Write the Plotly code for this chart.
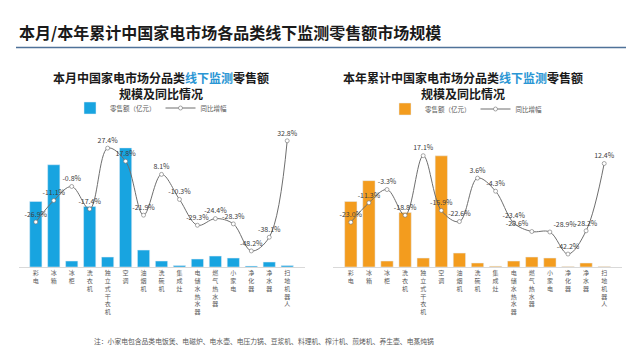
import plotly.graph_objects as go

categories = ["彩电", "冰箱", "冰柜", "洗衣机", "独立式干衣机", "空调", "油烟机", "洗碗机",
              "集成灶", "电储水热水器", "燃气热水器", "小家电", "净化器", "净水器", "扫地机器人"]
month_sales = [66, 103, 6, 61, 10, 120, 17, 6, 1.5, 8, 11, 9, 1, 5, 1.5]
month_yoy = [-26.9, -11.1, -0.8, -17.4, 27.4, 17.8, -21.9, 8.1, -10.3, -29.3, -24.4, -28.3, -48.2, -38.1, 32.8]
ytd_sales = [66, 87, 6, 55, 9, 112, 14, 4, 0.8, 6, 10, 9, 0.5, 4, 0.5]
ytd_yoy = [-23.0, -11.3, -3.3, -18.8, 17.1, -15.9, -22.6, 3.6, -4.3, -23.4, -28.6, -28.9, -42.2, -28.2, 12.4]

FONT = "Noto Sans CJK SC"
BLUE = "#18a4e0"
ORANGE = "#f39c1e"
LINEC = "#6e6e6e"
W, H = 640, 360

ticktext = ["<br>".join(list(c)) for c in categories]


def px(x):
    return x / W


def py(y):
    return 1 - y / H


ytd_textpos = ["top center"] * len(categories)
ytd_textpos[10] = "top left"
ytd_textpos[11] = "top right"

fig = go.Figure()

fig.add_trace(go.Bar(x=categories, y=month_sales, marker_color=BLUE, name="零售额（亿元）",
                     xaxis="x", yaxis="y", legend="legend", width=0.68))
fig.add_trace(go.Scatter(x=categories, y=month_yoy, name="同比增幅", xaxis="x", yaxis="y2",
                         mode="lines+markers+text", line=dict(color=LINEC, width=1, shape="spline", smoothing=1),
                         marker=dict(symbol="circle", size=4, color="white", line=dict(color=LINEC, width=0.6)),
                         text=[f"{v:.1f}%" for v in month_yoy], textposition="top center",
                         textfont=dict(size=7, color="#404040", family=FONT), cliponaxis=False,
                         legend="legend"))

fig.add_trace(go.Bar(x=categories, y=ytd_sales, marker_color=ORANGE, name="零售额（亿元）",
                     xaxis="x2", yaxis="y3", legend="legend2", width=0.68))
fig.add_trace(go.Scatter(x=categories, y=ytd_yoy, name="同比增幅", xaxis="x2", yaxis="y4",
                         mode="lines+markers+text", line=dict(color=LINEC, width=1, shape="spline", smoothing=1),
                         marker=dict(symbol="circle", size=4, color="white", line=dict(color=LINEC, width=0.6)),
                         text=[f"{v:.1f}%" for v in ytd_yoy], textposition=ytd_textpos,
                         textfont=dict(size=7, color="#404040", family=FONT), cliponaxis=False,
                         legend="legend2"))

ydom = [py(267), py(131)]
xcommon = dict(type="category", showline=True, linecolor="#d9d9d9", linewidth=1, ticks="",
               tickvals=categories, ticktext=ticktext, tickangle=0,
               tickfont=dict(size=6, color="#595959", family=FONT), showgrid=False)

fig.update_layout(
    width=W, height=H,
    margin=dict(l=0, r=0, t=0, b=0),
    paper_bgcolor="white", plot_bgcolor="rgba(0,0,0,0)",
    font=dict(family=FONT),
    bargap=0.3,
    xaxis=dict(domain=[px(18.5), px(304.5)], anchor="y", **xcommon),
    yaxis=dict(domain=ydom, range=[0, 137], visible=False, anchor="x"),
    yaxis2=dict(range=[-60, 40], visible=False, overlaying="y", anchor="x", side="right"),
    xaxis2=dict(domain=[px(333.4), px(621.6)], anchor="y3", **xcommon),
    yaxis3=dict(domain=ydom, range=[0, 137], visible=False, anchor="x2"),
    yaxis4=dict(range=[-50, 32], visible=False, overlaying="y3", anchor="x2", side="right"),
    legend=dict(x=px(70), y=py(108), xanchor="left", yanchor="middle", orientation="h",
                font=dict(size=6.5, color="#595959", family=FONT), itemwidth=30,
                bgcolor="rgba(0,0,0,0)", tracegroupgap=0),
    legend2=dict(x=px(385), y=py(109), xanchor="left", yanchor="middle", orientation="h",
                 font=dict(size=6.5, color="#595959", family=FONT), itemwidth=30,
                 bgcolor="rgba(0,0,0,0)", tracegroupgap=0),
    showlegend=True,
)

annotations = [
    dict(text="<b>本月/本年累计中国家电市场各品类线下监测零售额市场规模</b>", x=px(17), y=py(32),
         xanchor="left", yanchor="middle", font=dict(size=16, color="#1a1a1a", family=FONT)),
    dict(text="<b>本月中国家电市场分品类<span style='color:#2a96d4'>线下监测</span>零售额<br>规模及同比情况</b>",
         x=px(161), y=py(85), xanchor="center", yanchor="middle", align="center",
         font=dict(size=12, color="#1a1a1a", family=FONT)),
    dict(text="<b>本年累计中国家电市场分品类<span style='color:#2a96d4'>线下监测</span>零售额<br>规模及同比情况</b>",
         x=px(463), y=py(85), xanchor="center", yanchor="middle", align="center",
         font=dict(size=12, color="#1a1a1a", family=FONT)),
    dict(text="注：小家电包含品类电饭煲、电磁炉、电水壶、电压力锅、豆浆机、料理机、榨汁机、煎烤机、养生壶、电蒸炖锅",
         x=px(92), y=py(341), xanchor="left", yanchor="middle", font=dict(size=6.8, color="#595959", family=FONT)),
]
for a in annotations:
    a.update(xref="paper", yref="paper", showarrow=False)
fig.update_layout(annotations=annotations)

fig.add_shape(type="line", xref="paper", yref="paper", x0=px(16), x1=px(626), y0=py(47.5), y1=py(47.5),
              line=dict(color="#4f7299", width=1.5))

fig.write_html("out.html", config={"displayModeBar": False},
               post_script="document.body.style.margin='0';")
